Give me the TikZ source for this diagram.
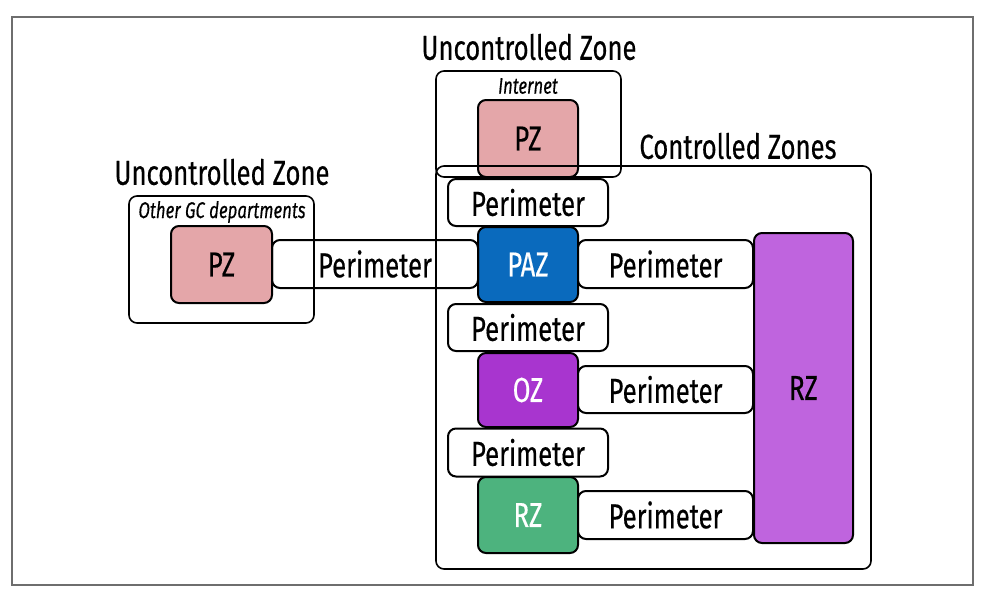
\documentclass[tikz,border=0pt]{standalone}
\usepackage{fontspec}
\setmainfont{Fira Sans}[FakeStretch=0.74, FakeBold=0.4]
\usetikzlibrary{positioning}
\definecolor{pzpink}{HTML}{E4A6A9}
\definecolor{pazblue}{HTML}{0A6ABD}
\definecolor{ozpurple}{HTML}{A835CF}
\definecolor{rzgreen}{HTML}{4DB37E}
\definecolor{rzviolet}{HTML}{BF64DE}
\definecolor{framegray}{HTML}{6E6E6E}

\tikzset{
  zonebox/.style 2 args={draw, line width=1.5pt, rounded corners=6pt, inner sep=0pt,
    minimum width=#1*0.75pt, minimum height=#2*0.75pt, font=\fontsize{26}{26}\selectfont},
  perimbox/.style 2 args={zonebox={#1}{#2}, fill=white},
  areabox/.style={draw, line width=1.2pt, rounded corners=6pt},
  titletext/.style={font=\fontsize{26}{26}\selectfont},
  areatext/.style={font=\fontsize{17}{17}\selectfont\itshape},
}

\begin{document}
\begin{tikzpicture}[x=0.75pt, y=-0.75pt]
  \useasboundingbox (0,0) rectangle (984,596);
  \draw[framegray, line width=1pt] (12,17) rectangle (973,585);

  % Titles
  \node[titletext] (titleinternet) at (529,47) {Uncontrolled Zone};
  \node[titletext] (titleother) at (222,172) {Uncontrolled Zone};
  \node[titletext] (titlecontrolled) at (738,146) {Controlled Zones};
  \node[areatext] (internet) at (528,86) {Internet};
  \node[areatext] (othergc) at (222,212) {Other GC departments};

  % Centre column
  \node[zonebox={100}{77}, fill=pzpink] (pzinternet) at (528,138.5) {PZ};
  \node[perimbox={160}{47}] (perimtop) at (528,202.5) {Perimeter};
  \node[zonebox={100}{75}, fill=pazblue, text=white] (paz) at (528,264.5) {PAZ};
  \node[perimbox={160}{47}] (perimmid) at (528,327.5) {Perimeter};
  \node[zonebox={100}{74}, fill=ozpurple, text=white] (oz) at (528,390) {OZ};
  \node[perimbox={160}{48}] (perimlow) at (528,452.5) {Perimeter};
  \node[zonebox={100}{76}, fill=rzgreen, text=white] (rzsmall) at (528,515) {RZ};

  % Right side
  \node[perimbox={175}{48}] (perimpaz) at (665.5,264) {Perimeter};
  \node[perimbox={175}{47}] (perimoz) at (665.5,389.5) {Perimeter};
  \node[perimbox={175}{48}] (perimrz) at (665.5,515) {Perimeter};
  \node[zonebox={99}{310}, fill=rzviolet] (rzbig) at (803.5,388) {RZ};

  % Left side
  \node[perimbox={206}{48}] (perimleft) at (375,264) {Perimeter};
  \node[zonebox={101}{77}, fill=pzpink] (pzother) at (221.5,264.5) {PZ};

  % Zone outlines
  \draw[areabox] (436,71) rectangle (621,177);
  \draw[areabox] (129,196) rectangle (314,323);
  \draw[areabox] (436,166) rectangle (871,569);
\end{tikzpicture}
\end{document}
